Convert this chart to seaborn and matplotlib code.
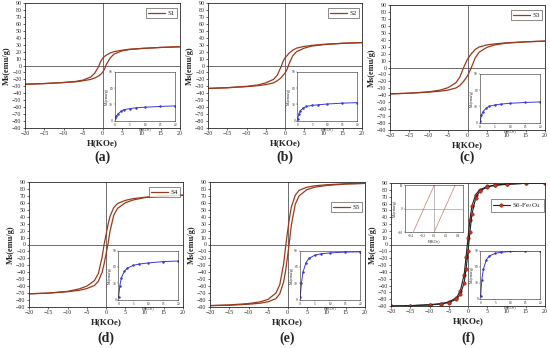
import matplotlib
matplotlib.use("Agg")
import matplotlib.pyplot as plt
import seaborn as sns
import pandas as pd

sns.set_style("ticks")
plt.rcParams['font.family'] = ['Liberation Serif', 'DejaVu Serif']
plt.rcParams['mathtext.fontset'] = 'stix'

# ---------------- data ----------------
H_down = [20, 15, 10, 7, 5, 3, 2, 1, 0.5, 0, -0.5, -1, -2, -3, -5, -7, -10, -15, -20]
H_up = [-20, -15, -10, -7, -5, -3, -2, -1, -0.5, 0, 0.5, 1, 2, 3, 5, 7, 10, 15, 20]

M_down_S1 = [27, 26, 24.5, 23.5, 22, 20, 18, 15, 13, 10, 5.5, -1.5, -11, -16.5, -21, -23, -24.5, -26, -27]
M_up_S1 = [-27, -26, -24.5, -23.5, -22, -20, -18, -15, -13, -10, -5.5, 1.5, 11, 16.5, 21, 23, 24.5, 26, 27]
M_down_S2 = [33, 32, 30.5, 29, 27.5, 25, 22, 17.5, 14, 11, 6, -1.5, -14, -20, -25, -28, -30, -32, -33]
M_up_S2 = [-33, -32, -30.5, -29, -27.5, -25, -22, -17.5, -14, -11, -6, 1.5, 14, 20, 25, 28, 30, 32, 33]
M_down_S3 = [38, 37, 35.5, 34, 32.5, 29.5, 26, 20, 16, 12, 6, 0, -14, -22, -29, -32.5, -35, -37, -38]
M_up_S3 = [-38, -37, -35.5, -34, -32.5, -29.5, -26, -20, -16, -12, -6, 0, 14, 22, 29, 32.5, 35, 37, 38]
M_down_S4 = [71, 70, 68, 66, 63.5, 59, 53, 40, 28, 14, 0, -18, -42, -52, -60, -64, -67.5, -70, -71]
M_up_S4 = [-71, -70, -68, -66, -63.5, -59, -53, -40, -28, -14, 0, 18, 42, 52, 60, 64, 67.5, 70, 71]
M_down_S5 = [88, 87.5, 86, 84.5, 82.5, 78, 71, 54, 38, 18, -4, -28, -58, -70, -79, -82.5, -85, -87, -88]
M_up_S5 = [-88, -87.5, -86, -84.5, -82.5, -78, -71, -54, -38, -18, 4, 28, 58, 70, 79, 82.5, 85, 87, 88]
M_down_S6 = [90, 89.5, 88.5, 87, 85, 80, 73, 56, 36, 10, -18, -44, -68, -78, -84, -86.5, -88, -89.5, -90]
M_up_S6 = [-90, -89.5, -88.5, -87, -85, -80, -73, -56, -36, -10, 18, 44, 68, 78, 84, 86.5, 88, 89.5, 90]

H_init = [0.1, 0.5, 1, 2, 3, 5, 7, 10, 15, 20]
M_init_S1 = [4, 8, 12, 17, 20, 22, 23.5, 24.5, 26, 27]
M_init_S2 = [3, 12, 18, 23, 26, 28, 29, 30.5, 32, 33]
M_init_S3 = [3, 13, 20, 26, 30, 32.5, 34, 35.5, 37, 38]
M_init_S4 = [5, 25, 40, 52, 58, 63, 65.5, 67.5, 70, 71]
M_init_S5 = [5, 30, 50, 68, 76, 82, 84.5, 86, 87.5, 88]
M_init_S6 = [5, 35, 55, 73, 80, 85, 87, 88.5, 89.5, 90]

samples = ["S1", "S2", "S3", "S4", "S5", "S6-Fe$_3$O$_4$"]
panel_labels = ["(a)", "(b)", "(c)", "(d)", "(e)", "(f)"]
loops_down = [M_down_S1, M_down_S2, M_down_S3, M_down_S4, M_down_S5, M_down_S6]
loops_up = [M_up_S1, M_up_S2, M_up_S3, M_up_S4, M_up_S5, M_up_S6]
inits = [M_init_S1, M_init_S2, M_init_S3, M_init_S4, M_init_S5, M_init_S6]

x_ticks = [-20, -15, -10, -5, 0, 5, 10, 15, 20]
y_ticks = list(range(-90, 91, 10))

# ---------------- layout (pixel boxes) ----------------
W, Hpx = 550, 348
boxes = [(25, 3, 180, 128), (208, 3, 362, 128), (390, 5, 545, 130),
         (29, 182, 183, 307), (210, 182, 365, 307), (391, 183, 545, 306)]
legend_locs = [(0.99, 0.97), (0.99, 0.97), (0.99, 0.97), (0.99, 0.97), (0.99, 0.85), (1.0, 0.88)]
loop_color = "#9a3a1c"
blue = "#3a3ad6"

fig = plt.figure(figsize=(5.5, 3.48), dpi=100)

for i in range(6):
    x0, y0, x1, y1 = boxes[i]
    ax = fig.add_axes([x0 / W, 1 - y1 / Hpx, (x1 - x0) / W, (y1 - y0) / Hpx])
    ax.axhline(0, color="#555555", lw=0.6, zorder=0)
    ax.axvline(0, color="#555555", lw=0.6, zorder=0)
    df = pd.DataFrame({"H": H_down + H_up, "M": loops_down[i] + loops_up[i],
                       "branch": ["down"] * len(H_down) + ["up"] * len(H_up)})
    if i < 5:
        sns.lineplot(data=df[df.branch == "down"], x="H", y="M", sort=False, estimator=None,
                     color=loop_color, lw=0.9, ax=ax, label=samples[i])
        sns.lineplot(data=df[df.branch == "up"], x="H", y="M", sort=False, estimator=None,
                     color=loop_color, lw=0.9, ax=ax)
    else:
        sns.lineplot(data=df[df.branch == "down"], x="H", y="M", sort=False, estimator=None,
                     color="#222222", lw=0.8, marker="o", ms=2.5, mfc="#c8321e", mec="#6b1a0e",
                     mew=0.3, ax=ax, label=samples[i])
        sns.lineplot(data=df[df.branch == "up"], x="H", y="M", sort=False, estimator=None,
                     color="#222222", lw=0.8, marker="o", ms=2.5, mfc="#c8321e", mec="#6b1a0e",
                     mew=0.3, ax=ax)
    ax.set_xlim(-20, 20)
    ax.set_ylim(-90, 90)
    ax.set_xticks(x_ticks)
    ax.set_yticks(y_ticks)
    ax.tick_params(labelsize=4.2, length=1.5, width=0.5, pad=1)
    for s in ax.spines.values():
        s.set_linewidth(0.6)
    ax.set_xlabel("H(KOe)", fontsize=6.5, fontweight="bold", labelpad=2)
    ax.set_ylabel("Ms(emu/g)", fontsize=6, fontweight="bold", labelpad=1)
    leg = ax.legend(loc="upper right", bbox_to_anchor=legend_locs[i], fontsize=5,
                    frameon=True, fancybox=False, edgecolor="#333333", handlelength=2.4,
                    borderpad=0.3, handletextpad=0.4, borderaxespad=0.2)
    leg.get_frame().set_linewidth(0.5)

    # initial magnetization inset
    ins = ax.inset_axes([0.58, 0.06, 0.39, 0.39])
    dfi = pd.DataFrame({"H": H_init, "M": inits[i]})
    sns.lineplot(data=dfi, x="H", y="M", color=blue, lw=0.7, marker="o", ms=1.0,
                 mec=blue, ax=ins, estimator=None)
    ins.set_xlim(0, 20)
    ins.set_ylim(0, 90)
    ins.set_xticks([0, 5, 10, 15, 20])
    ins.set_yticks([0, 30, 60, 90])
    ins.tick_params(labelsize=2.5, length=1, width=0.3, pad=0.5)
    for s in ins.spines.values():
        s.set_linewidth(0.4)
    ins.set_xlabel("H(KOe)", fontsize=2.8, labelpad=0.5)
    ins.set_ylabel("Ms(emu/g)", fontsize=2.8, labelpad=0.5)

    if i == 5:
        ins2 = ax.inset_axes([0.09, 0.6, 0.38, 0.38])
        ins2.axhline(0, color="#888888", lw=0.4)
        ins2.axvline(0, color="#888888", lw=0.4)
        sns.lineplot(data=df[df.branch == "down"], x="H", y="M", sort=False, estimator=None,
                     color="#c87a6a", lw=0.5, ax=ins2)
        sns.lineplot(data=df[df.branch == "up"], x="H", y="M", sort=False, estimator=None,
                     color="#c87a6a", lw=0.5, ax=ins2)
        ins2.set_xlim(-0.5, 0.5)
        ins2.set_ylim(-10, 10)
        ins2.set_yticks([-10, 0, 10])
        ins2.tick_params(labelsize=2.3, length=1, width=0.3, pad=0.5)
        for s in ins2.spines.values():
            s.set_linewidth(0.4)
        ins2.set_xlabel("H(KOe)", fontsize=2.8, labelpad=0.5)
        ins2.set_ylabel("Ms(emu/g)", fontsize=2.8, labelpad=0.5)

    # panel label
    cy = 157 if i < 3 else 338
    fig.text((x0 + x1) / 2 / W, 1 - cy / Hpx, panel_labels[i], ha="center", va="center",
             fontsize=10, fontweight="bold")

fig.savefig("out.png", dpi=100)
